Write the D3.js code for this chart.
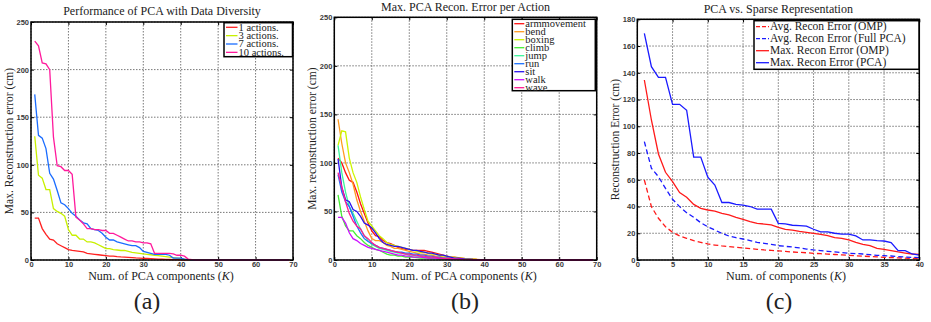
<!DOCTYPE html>
<html>
<head>
<meta charset="utf-8">
<script src="https://cdn.jsdelivr.net/npm/d3@7"></script>
<style>
  body { margin: 0; background: #fff; }
  svg { display: block; }
</style>
</head>
<body>
<svg id="fig" width="931" height="322"></svg>
<script>
// ---- data: (a) max reconstruction error vs number of PCA components, K = 1..69
const diversityLabels = ['1 actions.', '3 actions.', '7 actions.', '10 actions.'];
const diversityColors = ['#ff2020', '#c8f000', '#1a6cff', '#ff1a9c'];
const act1 = [44,44,33,27,22,21,17,15,13,11, 10,9.5,9,8.5,7,6.5,6,5.5,5,4.5, 4,4,3.5,3.2,3,2.8,2.5,2.2,2,1.8,
  1.6,1.4,1.2,1,0.8,0.6,0.5,0.4,0.3,0.2, 0,0,0,0,0,0,0,0,0,0, 0,0,0,0,0,0,0,0,0,0, 0,0,0,0,0,0,0,0,0];
const act3 = [130,89,86,74,74,54,51,49,46,32, 26,26,22,22,19,19,18,16,14,12, 12,11,10.5,10,10,9,8,7.5,7,6.5,
  6,5.5,5,4.5,4,3.5,3,2.5,2,1.5, 1,0.5,0,0,0,0,0,0,0,0, 0,0,0,0,0,0,0,0,0,0, 0,0,0,0,0,0,0,0,0];
const act7 = [174,131,128,117,91,85,73,60,58,54, 49,46,42,39,38,33,32,31,28,24, 21,21,19,18,17,16,15,15,13,9,
  8,7,6,6,6,6,5,2,2,2, 1,0.5,0,0,0,0,0,0,0,0, 0,0,0,0,0,0,0,0,0,0, 0,0,0,0,0,0,0,0,0];
const act10 = [230,225,207,206,200,129,99,98,94,94, 90,45,42,38,33,33,32,32,31,31, 28,28,26,24,22,20,20,19,19,18,
  18,17,7,7,7,7,7,6.5,5,5, 4,1,0.5,0,0,0,0,0,0,0, 0,0,0,0,0,0,0,0,0,0, 0,0,0,0,0,0,0,0,0];

// ---- data: (b) max PCA reconstruction error per action, K = 1..69
const actionLabels = ['armmovement', 'bend', 'boxing', 'climb', 'jump', 'run', 'sit', 'walk', 'wave'];
const actionColors = ['#ff1010', '#ff9a20', '#ccf500', '#44ee33', '#3cf59a', '#1a70ff', '#2a10ee', '#cc10ff', '#ff1a90'];
const armmovement = [105,100,90,82,80,70,58,48,38,30, 25,24,20,18,17,15,13,12,11,11, 10,10,10,10,9,8,7,6,5,4,
  3,3,2.5,2,1.5,1,0.8,0.5,0.3,0.2, 0.1,0,0,0,0,0,0,0,0,0, 0,0,0,0,0,0,0,0,0,0, 0,0,0,0,0,0,0,0,0];
const bend = [145,120,100,90,78,62,50,40,30,22, 20,20,18,15,14,12,12,11,10,9, 8,7,6,6,5,5,4,4,3,3,
  2.5,2,2,1.5,1,1,0.7,0.5,0.3,0.2, 0.1,0,0,0,0,0,0,0,0,0, 0,0,0,0,0,0,0,0,0,0, 0,0,0,0,0,0,0,0,0];
const boxing = [118,133,132,105,90,80,65,52,40,35, 30,25,22,18,16,15,14,13,12,11, 10,9,8,8,7,6,6,5,4,4,
  3,3,2,2,1.5,1,1,0.5,0.3,0.2, 0.1,0,0,0,0,0,0,0,0,0, 0,0,0,0,0,0,0,0,0,0, 0,0,0,0,0,0,0,0,0];
const climb = [67,45,35,30,30,25,22,18,15,13, 11,10,8,6,5,5,4,4,3,3, 3,2.5,2,2,2,1.5,1.5,1,1,1,
  0.8,0.6,0.5,0.4,0.3,0.2,0.1,0,0,0, 0,0,0,0,0,0,0,0,0,0, 0,0,0,0,0,0,0,0,0,0, 0,0,0,0,0,0,0,0,0];
const jump = [118,90,70,55,48,40,32,25,20,16, 14,12,11,10,9,8,7,7,6,5, 5,4,4,3,3,3,2,2,2,1.5,
  1,1,0.8,0.6,0.4,0.3,0.2,0.1,0,0, 0,0,0,0,0,0,0,0,0,0, 0,0,0,0,0,0,0,0,0,0, 0,0,0,0,0,0,0,0,0];
const run = [88,70,60,55,45,35,28,22,19,17, 15,13,12,11,10,9,8,8,7,7, 6,6,5,5,4,4,3,3,2,2,
  1.5,1,0.8,0.6,0.4,0.3,0.2,0.1,0,0, 0,0,0,0,0,0,0,0,0,0, 0,0,0,0,0,0,0,0,0,0, 0,0,0,0,0,0,0,0,0];
const sit = [104,75,62,60,52,50,45,38,36,33, 28,22,18,16,15,14,14,13,12,11, 10,10,9,8,7,7,6,5,5,4,
  3,2,2,1.5,1,0.8,0.5,0.3,0.2,0.1, 0,0,0,0,0,0,0,0,0,0, 0,0,0,0,0,0,0,0,0,0, 0,0,0,0,0,0,0,0,0];
const walk = [44,44,38,28,22,20,17,15,13,12, 11,10,9,8,7,6,5,5,4,4, 3,3,3,2.5,2,2,2,1.5,1.5,1,
  1,0.8,0.6,0.5,0.4,0.3,0.2,0.1,0,0, 0,0,0,0,0,0,0,0,0,0, 0,0,0,0,0,0,0,0,0,0, 0,0,0,0,0,0,0,0,0];
const wave = [90,75,60,48,40,35,32,25,22,18, 15,13,12,11,10,9,8,7,6,6, 5,5,4,4,3,3,3,2,2,1.5,
  1.5,1,0.8,0.6,0.4,0.3,0.2,0.1,0,0, 0,0,0,0,0,0,0,0,0,0, 0,0,0,0,0,0,0,0,0,0, 0,0,0,0,0,0,0,0,0];

// ---- data: (c) PCA vs sparse representation, K = 1..40
const sparseLabels = ['Avg. Recon Error (OMP)', 'Avg. Recon Error (Full PCA)', 'Max. Recon Error (OMP)', 'Max. Recon Error (PCA)'];
const sparseColors = ['#ff1a1a', '#1a1aff', '#ff1a1a', '#1a1aff'];
const sparseDashed = [true, true, false, false];
const avgOmp = [59.8,39.9,31.2,24.9,20.7,18,16.2,14.5,13.2,12, 11.2,10.5,10,9.5,9,8.5,8,7.5,7.2,6.8,
  6.4,6,5.7,5.4,5,4.7,4.4,4.1,3.8,3.5, 3.2,2.9,2.6,2.3,2,1.8,1.6,1.4,1.2,1];
const avgPca = [88.5,68.6,62.3,53.6,45.4,39.9,35.4,31.9,27.9,24.9, 22.4,19.9,17.9,16.7,15.7,14.5,13.2,12.5,11.7,10.7,
  10.2,9.7,9,8.2,7.5,7,6.5,6,5.5,5, 4.8,4.5,4,3.5,3.2,3,2.5,2.2,2,1.8];
const maxOmp = [134.6,104.7,79.3,65.6,58.6,50.4,46.9,41.6,38.6,37.4, 36.6,34.9,33.7,31.9,30.4,28.7,27.4,26.9,26.2,24.4,
  22.9,22.4,21.4,20.7,19.9,19.2,18.2,16.7,16.2,15, 13.2,11.7,10.7,8.7,8,7,6,5.2,4.5,4.2];
const maxPca = [169.5,144.6,136.6,136.6,116.4,116.4,112,77,77,62, 56,43,43,41.6,41,40,38,38,38,27.4,
  27,26,25.7,25.4,23,21,21,20,19.4,19.4, 18,15,15,14.5,14.2,13,7,7,4.5,3.7];

const SERIF = '"Liberation Serif", "DejaVu Serif", serif';
const SANS = '"Liberation Sans", "DejaVu Sans", sans-serif';
const svg = d3.select('#fig');

function serifText(g, size) {
  return g.append('text').style('font-family', SERIF).style('font-size', size + 'px').attr('fill', '#222');
}

function drawPanel(p) {
  const g = svg.append('g');
  const x = d3.scaleLinear().domain(p.xDomain).range([p.left, p.right]);
  const y = d3.scaleLinear().domain(p.yDomain).range([p.bottom, p.top]);
  const h = p.bottom - p.top, w = p.right - p.left;

  // dotted grid
  g.selectAll('.gx').data(p.xTicks).enter().append('line')
    .attr('x1', d => x(d)).attr('x2', d => x(d)).attr('y1', p.top).attr('y2', p.bottom)
    .attr('stroke', '#555').attr('stroke-width', 0.8).attr('stroke-dasharray', '1.5,1.5');
  g.selectAll('.gy').data(p.yTicks).enter().append('line')
    .attr('x1', p.left).attr('x2', p.right).attr('y1', d => y(d)).attr('y2', d => y(d))
    .attr('stroke', '#555').attr('stroke-width', 0.8).attr('stroke-dasharray', '1.5,1.5');

  // axes with inward ticks
  const bx = g.append('g').attr('transform', `translate(0,${p.bottom})`)
    .call(d3.axisBottom(x).tickValues(p.xTicks).tickSize(-3).tickPadding(1.5));
  const ly = g.append('g').attr('transform', `translate(${p.left},0)`)
    .call(d3.axisLeft(y).tickValues(p.yTicks).tickSize(-3).tickPadding(2));
  const tx = g.append('g').attr('transform', `translate(0,${p.top})`)
    .call(d3.axisTop(x).tickValues(p.xTicks).tickSize(-3).tickFormat(''));
  const ry = g.append('g').attr('transform', `translate(${p.right},0)`)
    .call(d3.axisRight(y).tickValues(p.yTicks).tickSize(-3).tickFormat(''));
  [bx, ly, tx, ry].forEach(a => {
    a.select('.domain').remove();
    a.selectAll('line').attr('stroke', '#000');
    a.selectAll('text').style('font-family', SANS).style('font-size', '7.5px')
      .style('font-weight', 'bold').attr('fill', '#3a3a3a');
  });

  // series
  const line = d3.line().x((d, i) => x(p.ks[i])).y(d => y(d));
  p.series.forEach((s, i) => {
    g.append('path').datum(s)
      .attr('fill', 'none')
      .attr('stroke', p.colors[i])
      .attr('stroke-width', 1.3)
      .attr('stroke-dasharray', p.dashed && p.dashed[i] ? '5,3' : null)
      .attr('d', line);
  });

  // axes box
  g.append('rect').attr('x', p.left).attr('y', p.top).attr('width', w).attr('height', h)
    .attr('fill', 'none').attr('stroke', '#000').attr('stroke-width', 1.5);

  // legend
  const L = p.legend;
  g.append('rect').attr('x', L.x).attr('y', L.y).attr('width', L.w).attr('height', L.h)
    .attr('fill', '#fff').attr('stroke', '#000').attr('stroke-width', 1.5);
  p.labels.forEach((lab, i) => {
    const cy = L.y0 + i * L.dy;
    g.append('line').attr('x1', L.x + 2).attr('x2', L.x + 2 + L.len).attr('y1', cy).attr('y2', cy)
      .attr('stroke', p.colors[i]).attr('stroke-width', 1.3)
      .attr('stroke-dasharray', p.dashed && p.dashed[i] ? '4,2' : null);
    serifText(g, L.fs).attr('x', L.x + 3 + L.len).attr('y', cy + L.fs * 0.33).text(lab);
  });

  // title, axis labels, sub-caption
  serifText(g, 12).attr('x', (p.left + p.right) / 2).attr('y', p.titleY)
    .attr('text-anchor', 'middle').text(p.title);
  const xl = serifText(g, 12).attr('x', p.xLabelX).attr('y', 279.5).attr('text-anchor', 'middle');
  xl.append('tspan').text(p.xLabel + ' (');
  xl.append('tspan').style('font-style', 'italic').text('K');
  xl.append('tspan').text(')');
  serifText(g, 11.5)
    .attr('transform', `translate(${p.yLabelX},${(p.top + p.bottom) / 2}) rotate(-90)`)
    .attr('text-anchor', 'middle').text(p.yLabel);
  serifText(g, 24).attr('x', p.capX).attr('y', 309).attr('text-anchor', 'middle').text(p.caption);
}

const k69 = d3.range(1, 70);
const k40 = d3.range(1, 41);

drawPanel({
  left: 31, right: 293, top: 22, bottom: 260,
  xDomain: [0, 70], yDomain: [0, 250],
  xTicks: d3.range(0, 71, 10), yTicks: d3.range(0, 251, 50),
  ks: k69, series: [act1, act3, act7, act10], colors: diversityColors, labels: diversityLabels,
  legend: { x: 224, y: 22.7, w: 68.5, h: 34, y0: 27.3, dy: 8.35, len: 11.5, fs: 10.5 },
  title: 'Performance of PCA with Data Diversity', titleY: 15,
  xLabel: 'Num. of PCA components', xLabelX: 161,
  yLabel: 'Max. Reconstruction error (cm)', yLabelX: 13,
  caption: '(a)', capX: 147
});

drawPanel({
  left: 334.3, right: 596.7, top: 17.3, bottom: 260,
  xDomain: [0, 70], yDomain: [0, 250],
  xTicks: d3.range(0, 71, 10), yTicks: d3.range(0, 251, 50),
  ks: k69, series: [armmovement, bend, boxing, climb, jump, run, sit, walk, wave],
  colors: actionColors, labels: actionLabels,
  legend: { x: 512.3, y: 19.3, w: 83, h: 71.4, y0: 23.7, dy: 8, len: 10, fs: 10.5 },
  title: 'Max. PCA Recon. Error per Action', titleY: 11,
  xLabel: 'Num. of PCA components', xLabelX: 464,
  yLabel: 'Max. reconstruction error (cm)', yLabelX: 316,
  caption: '(b)', capX: 465
});

drawPanel({
  left: 637.3, right: 919.3, top: 19.3, bottom: 260,
  xDomain: [0, 40], yDomain: [0, 180],
  xTicks: d3.range(0, 41, 5), yTicks: d3.range(0, 181, 20),
  ks: k40, series: [avgOmp, avgPca, maxOmp, maxPca], colors: sparseColors, labels: sparseLabels,
  dashed: sparseDashed,
  legend: { x: 754, y: 20.7, w: 165, h: 48.6, y0: 26.7, dy: 12, len: 13, fs: 11.5 },
  title: 'PCA vs. Sparse Representation', titleY: 13,
  xLabel: 'Num. of components', xLabelX: 786,
  yLabel: 'Reconstruction Error (cm)', yLabelX: 619,
  caption: '(c)', capX: 779
});
</script>
</body>
</html>
